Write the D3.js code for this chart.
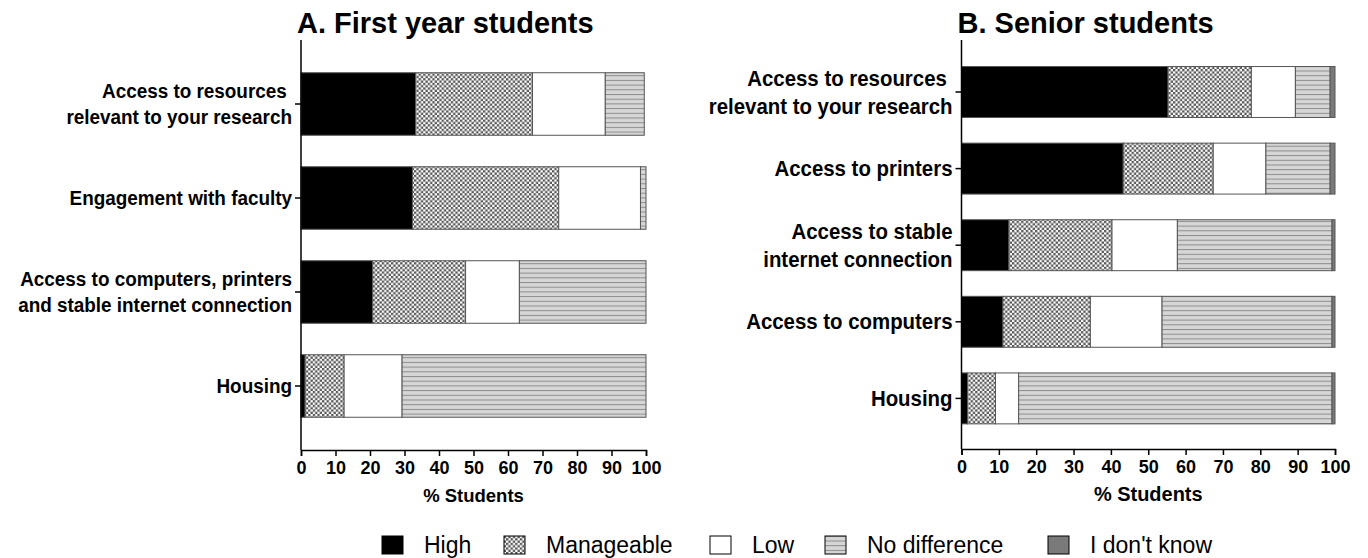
<!DOCTYPE html>
<html>
<head>
<meta charset="utf-8">
<script src="https://cdn.jsdelivr.net/npm/d3@7"></script>
<style>
  body { margin: 0; background: #fff; }
  text { font-family: "Liberation Sans", Arial, sans-serif; }
</style>
</head>
<body>
<svg></svg>
<script>
// Data
const levels = ["High", "Manageable", "Low", "No difference", "I don't know"];

const categoriesA = [
  ["Access to resources ", "relevant to your research"],
  ["Engagement with faculty"],
  ["Access to computers, printers", "and stable internet connection"],
  ["Housing"]
];
const highA = [33.2, 32.3, 20.8, 1.2];
const manageableA = [33.9, 42.4, 26.9, 11.3];
const lowA = [21.1, 23.7, 15.6, 16.8];
const noDiffA = [11.3, 1.6, 36.7, 70.7];
const dontKnowA = [0, 0, 0, 0];

const categoriesB = [
  ["Access to resources ", "relevant to your research"],
  ["Access to printers"],
  ["Access to stable", "internet connection"],
  ["Access to computers"],
  ["Housing"]
];
const highB = [55.3, 43.3, 12.7, 11.1, 1.6];
const manageableB = [22.3, 24.1, 27.6, 23.4, 7.5];
const lowB = [11.8, 14.1, 17.5, 19.2, 6.2];
const noDiffB = [9.3, 17.2, 41.4, 45.5, 83.9];
const dontKnowB = [1.3, 1.3, 0.8, 0.8, 0.8];

const xTicks = [0, 10, 20, 30, 40, 50, 60, 70, 80, 90, 100];

//Dimensions
const width = 1368, height = 558;
const svg = d3.select("svg").attr("width", width).attr("height", height);

// Patterns
const defs = svg.append("defs");
const checker = defs.append("pattern").attr("id", "checker")
  .attr("patternUnits", "userSpaceOnUse").attr("width", 4.6).attr("height", 4.6);
checker.append("rect").attr("width", 4.6).attr("height", 4.6).attr("fill", "#fff");
checker.append("rect").attr("width", 2.3).attr("height", 2.3).attr("fill", "#555");
checker.append("rect").attr("x", 2.3).attr("y", 2.3).attr("width", 2.3).attr("height", 2.3).attr("fill", "#555");

const hlines = defs.append("pattern").attr("id", "hlines")
  .attr("patternUnits", "userSpaceOnUse").attr("width", 8).attr("height", 4.7);
hlines.append("rect").attr("width", 8).attr("height", 4.7).attr("fill", "#d6d6d6");
hlines.append("rect").attr("width", 8).attr("height", 1).attr("fill", "#8c8c8c");

const fills = ["#000", "url(#checker)", "#fff", "url(#hlines)", "#7a7a7a"];

function panel(opt) {
  const { cats, series, x0, x1, yTop, yBottom, bandStart, bandStep, title, fs } = opt;
  const x = d3.scaleLinear().domain([0, 100]).range([x0, x1]);
  const y = d3.scaleBand().domain(d3.range(cats.length))
    .range([bandStart, bandStart + bandStep * cats.length]).paddingInner(0.335).paddingOuter(0.1675);

  const rows = cats.map((c, i) => {
    const r = { i };
    levels.forEach((l, k) => r[l] = series[k][i]);
    return r;
  });
  const stacked = d3.stack().keys(levels)(rows);

  const g = svg.append("g");
  g.selectAll("g.layer").data(stacked).join("g")
    .attr("class", "layer")
    .attr("fill", (d, k) => fills[k])
    .selectAll("rect").data(d => d.filter(p => p[1] - p[0] > 0)).join("rect")
    .attr("x", d => x(d[0]))
    .attr("width", d => x(d[1]) - x(d[0]))
    .attr("y", d => y(d.data.i))
    .attr("height", y.bandwidth())
    .attr("stroke", "#555").attr("stroke-width", 1);

  // y axis
  g.append("line").attr("x1", x0).attr("x2", x0).attr("y1", yTop).attr("y2", yBottom)
    .attr("stroke", "#000").attr("stroke-width", 1.5);
  cats.forEach((lines, i) => {
    const cy = y(i) + y.bandwidth() / 2;
    g.append("line").attr("x1", x0 - 6).attr("x2", x0).attr("y1", cy).attr("y2", cy)
      .attr("stroke", "#000").attr("stroke-width", 1.5);
    const t = g.append("text").attr("text-anchor", "end")
      .attr("transform", `translate(${x0 - 9},${cy + 7 * fs}) scale(0.945,1)`)
      .attr("font-size", 20 * fs).attr("font-weight", "bold")
      .style("white-space", "pre");
    const lh = 26 * fs;
    lines.forEach((ln, j) => {
      t.append("tspan").attr("x", 0)
        .attr("y", (j - (lines.length - 1) / 2) * lh).text(ln);
    });
  });

  // x axis
  const xa = g.append("g").attr("transform", `translate(0,${yBottom})`)
    .call(d3.axisBottom(x).tickValues(xTicks).tickSize(6).tickPadding(5));
  xa.select(".domain").attr("stroke-width", 1.5);
  xa.selectAll(".tick line").attr("stroke-width", 1.5);
  xa.selectAll(".tick text").attr("font-size", 18).attr("font-weight", "bold")
    .attr("fill", "#000").attr("font-family", "Liberation Sans, Arial, sans-serif");
  g.append("text").attr("x", (x0 + x1) / 2).attr("y", yBottom + 52)
    .attr("text-anchor", "middle").attr("font-size", 18.5 * fs).attr("font-weight", "bold")
    .text("% Students");

  g.append("text").attr("x", x0 - 4).attr("y", 33)
    .attr("font-size", 29).attr("font-weight", "bold").text(title);
}

panel({
  cats: categoriesA,
  series: [highA, manageableA, lowA, noDiffA, dontKnowA],
  x0: 301, x1: 646, yTop: 40, yBottom: 450,
  bandStart: 57, bandStep: 94, fs: 1,
  title: "A. First year students"
});

panel({
  cats: categoriesB,
  series: [highB, manageableB, lowB, noDiffB, dontKnowB],
  x0: 961.5, x1: 1335, yTop: 40, yBottom: 449,
  bandStart: 53.7, bandStep: 76.6, fs: 1.08,
  title: "B. Senior students"
});

// Legend
const legendX = [382, 504, 710, 825, 1048];
const legend = svg.append("g");
levels.forEach((l, k) => {
  legend.append("rect").attr("x", legendX[k]).attr("y", 536).attr("width", 21).attr("height", 18)
    .attr("fill", fills[k]).attr("stroke", "#000").attr("stroke-width", 1);
  legend.append("text").attr("x", legendX[k] + 42).attr("y", 553)
    .attr("font-size", 23).text(l);
});
</script>
</body>
</html>
